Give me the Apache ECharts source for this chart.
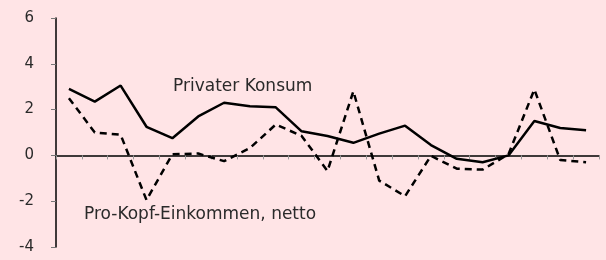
<!DOCTYPE html>
<html>
<head>
<meta charset="utf-8">
<script src="https://cdn.jsdelivr.net/npm/echarts@6/dist/echarts.min.js"></script>
<style>
  html, body { margin: 0; padding: 0; background: #ffe4e6; }
  #chart { width: 606px; height: 260px; }
</style>
</head>
<body>
<div id="chart"></div>
<script>
// one category per period, 21 periods, no labels on the x axis
const categories = ['1', '2', '3', '4', '5', '6', '7', '8', '9', '10', '11',
  '12', '13', '14', '15', '16', '17', '18', '19', '20', '21'];

const privaterKonsum = [2.9, 2.35, 3.05, 1.25, 0.75, 1.7, 2.3, 2.15, 2.1, 1.05, 0.85,
  0.55, 0.95, 1.3, 0.45, -0.15, -0.3, 0.0, 1.5, 1.2, 1.1];

const proKopfEinkommen = [2.5, 1.0, 0.9, -1.95, 0.05, 0.08, -0.25, 0.32, 1.35, 0.85, -0.68,
  2.8, -1.1, -1.78, -0.02, -0.58, -0.62, 0.05, 2.88, -0.2, -0.3];

const yTicks = [-4, -2, 0, 2, 4, 6];

const chart = echarts.init(document.getElementById('chart'));

const lineStyleBase = { color: '#000', width: 2.5 };
const font = 'DejaVu Sans';

chart.setOption({
  backgroundColor: '#ffe4e6',
  animation: false,
  grid: { left: 56, right: 7, top: 18, bottom: 13 },
  xAxis: {
    type: 'category',
    data: categories,
    boundaryGap: true,
    axisLine: { onZero: true, lineStyle: { color: '#000', width: 1.5 } },
    axisTick: { show: true, length: 4, lineStyle: { color: '#999' } },
    axisLabel: { show: false },
    splitLine: { show: false }
  },
  yAxis: {
    type: 'value',
    min: yTicks[0],
    max: yTicks[yTicks.length - 1],
    interval: 2,
    axisLine: { show: true, lineStyle: { color: '#000', width: 1.5 } },
    axisTick: { show: true, length: 5, lineStyle: { color: '#777' } },
    axisLabel: {
      margin: 22,
      color: '#2a2a2a',
      fontSize: 15,
      fontFamily: font
    },
    splitLine: { show: false }
  },
  graphic: [
    {
      type: 'text',
      left: 173,
      top: 78,
      style: { text: 'Privater Konsum', fill: '#2a2a2a', fontSize: 17, fontFamily: font }
    },
    {
      type: 'text',
      left: 84,
      top: 206,
      style: { text: 'Pro-Kopf-Einkommen, netto', fill: '#2a2a2a', fontSize: 17, fontFamily: font }
    }
  ],
  series: [
    {
      name: 'Privater Konsum',
      type: 'line',
      data: privaterKonsum,
      symbol: 'none',
      lineStyle: Object.assign({}, lineStyleBase, { type: 'solid' })
    },
    {
      name: 'Pro-Kopf-Einkommen, netto',
      type: 'line',
      data: proKopfEinkommen,
      symbol: 'none',
      lineStyle: Object.assign({}, lineStyleBase, { type: [7, 5] })
    }
  ]
});
</script>
</body>
</html>
